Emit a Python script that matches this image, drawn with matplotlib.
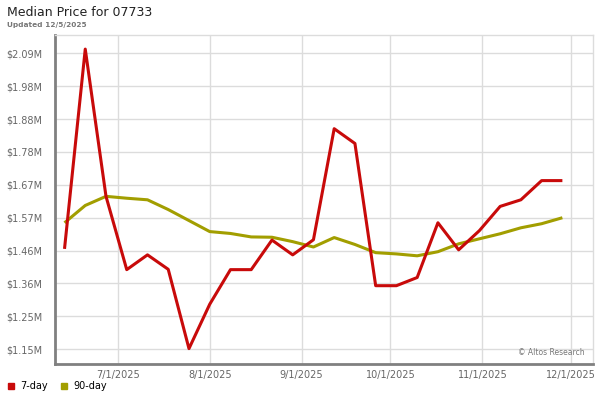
import matplotlib
matplotlib.use("Agg")
from matplotlib import pyplot as plt
from matplotlib.lines import Line2D
import pandas as pd

# weekly data points, 6/13/2025 .. 11/28/2025
dates = pd.date_range("2025-06-13", "2025-11-28", freq="7D")

# values in $M
price_7day = [1.467, 2.102, 1.634, 1.401, 1.448, 1.402, 1.150, 1.291, 1.401,
              1.401, 1.495, 1.448, 1.496, 1.849, 1.802, 1.350, 1.350, 1.376,
              1.550, 1.464, 1.525, 1.602, 1.623, 1.684, 1.684]
price_90day = [1.550, 1.605, 1.634, 1.628, 1.623, 1.592, 1.557, 1.522, 1.516,
               1.505, 1.504, 1.490, 1.473, 1.503, 1.481, 1.455, 1.451, 1.445,
               1.458, 1.483, 1.499, 1.515, 1.534, 1.547, 1.566]

ytick_values = [1.148 + 0.1045 * i for i in range(10)]
ytick_labels = ["$1.15M", "$1.25M", "$1.36M", "$1.46M", "$1.57M",
                "$1.67M", "$1.78M", "$1.88M", "$1.98M", "$2.09M"]
xtick_dates = pd.to_datetime(["2025-07-01", "2025-08-01", "2025-09-01",
                              "2025-10-01", "2025-11-01", "2025-12-01"])
xtick_labels = ["7/1/2025", "8/1/2025", "9/1/2025", "10/1/2025",
                "11/1/2025", "12/1/2025"]

red = "#c80a0a"
olive = "#a29e00"
grid_col = "#dcdcdc"
label_col = "#666666"

fig = plt.figure(figsize=(6, 4), dpi=100)
ax = fig.add_axes([55 / 600, 1 - 364 / 400, (593 - 55) / 600, (364 - 35) / 400])

ax.plot(dates, price_90day, color=olive, lw=2.2, solid_capstyle="butt", zorder=3)
ax.plot(dates, price_7day, color=red, lw=2.2, solid_capstyle="butt", zorder=4)

ax.set_ylim(1.1011, 2.1468)
ax.set_xlim(pd.Timestamp("2025-06-09 19:00"), pd.Timestamp("2025-12-08 08:00"))

ax.set_yticks(ytick_values)
ax.set_yticklabels(ytick_labels)
ax.set_xticks(xtick_dates)
ax.set_xticklabels(xtick_labels)
ax.tick_params(axis="both", length=0, labelsize=7, labelcolor=label_col)
ax.tick_params(axis="y", pad=9)
ax.tick_params(axis="x", pad=4)

ax.grid(True, color=grid_col, lw=1)
ax.set_axisbelow(True)

for side in ["left", "bottom"]:
    ax.spines[side].set_color("#808080")
    ax.spines[side].set_linewidth(2)
for side in ["top", "right"]:
    ax.spines[side].set_color(grid_col)
    ax.spines[side].set_linewidth(1)

ax.text(0.984, 0.034, "\u00a9 Altos Research", transform=ax.transAxes,
        ha="right", va="center", fontsize=5.5, color="#777777")

fig.text(7 / 600, 1 - 12 / 400, "Median Price for 07733", fontsize=9,
         ha="left", va="center", color="#222222")
fig.text(7 / 600, 1 - 25 / 400, "Updated 12/5/2025", fontsize=5.3,
         fontweight="bold", ha="left", va="center", color="#777777")

handles = [Line2D([], [], marker="s", ls="none", color=red, markersize=4.5),
           Line2D([], [], marker="s", ls="none", color=olive, markersize=4.5)]
fig.legend(handles, ["7-day", "90-day"], loc="center left",
           bbox_to_anchor=(4 / 600, 1 - 386 / 400), ncol=2, frameon=False,
           fontsize=7, handlelength=0.8, handletextpad=0.6, columnspacing=1.2,
           borderaxespad=0, borderpad=0.3)

fig.savefig("out.png", dpi=100)
